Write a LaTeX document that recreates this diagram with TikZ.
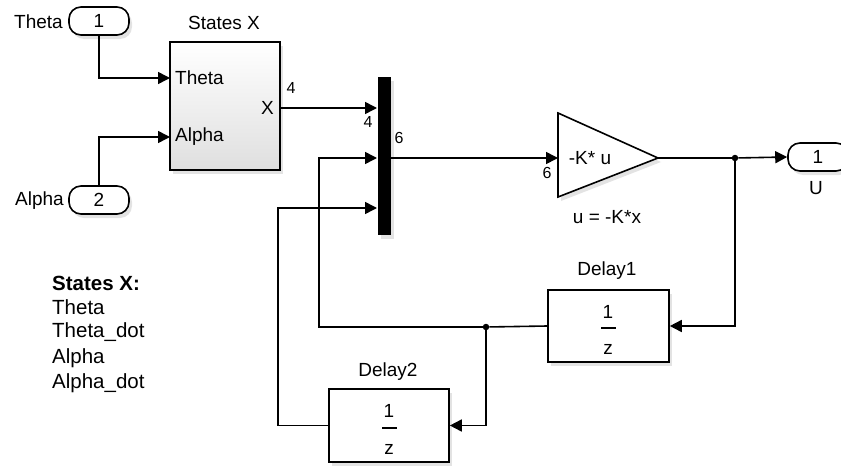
\documentclass[tikz,border=0pt]{standalone}
\usepackage{fontspec}
\setmainfont{Liberation Sans}
\usetikzlibrary{arrows.meta,shadows}
\begin{document}
\begin{tikzpicture}[x=1pt,y=-1pt,
  every node/.style={font=\fontsize{19}{22}\selectfont, inner sep=0pt},
  small/.style={font=\fontsize{16}{19}\selectfont},
  listtxt/.style={anchor=west, font=\fontsize{20.5}{24}\selectfont},
  wire/.style={line width=1.6pt},
  sig/.style={line width=1.6pt, -{Triangle[length=12pt,width=12pt]}},
  shad/.style={drop shadow={opacity=0.22, shadow xshift=3pt, shadow yshift=-4pt}},
  blk/.style={draw, line width=1.6pt, fill=white, shad},
  port/.style={draw, line width=1.6pt, fill=white, rounded corners=12pt, minimum width=60pt, minimum height=28pt, shad},
  dot/.style={circle, fill=black, minimum size=6.5pt, inner sep=0pt},
  fbar/.style={line width=2pt}
]
\useasboundingbox (0,0) rectangle (841,466);

% inports / outport
\node[port] (thetaIn) at (99,21) {1};
\node[port] (alphaIn) at (99,200) {2};
\node[port] (uOut) at (818,157) {1};
\node[anchor=east] (thetaLbl) at (63,22) {Theta};
\node[anchor=east] (alphaLbl) at (64,201) {Alpha};
\node (uLbl) at (816,188) {U};

% States X block
\node[draw, line width=1.6pt, top color=white, bottom color=gray!25, shad,
      minimum width=110pt, minimum height=128pt] (states) at (225,106) {};
\node (statesTitle) at (224,23) {States X};
\node[anchor=west] (pTheta) at (175,78) {Theta};
\node[anchor=west] (pAlpha) at (175,137) {Alpha};
\node[anchor=east] (pX) at (274,108) {X};
\node[small] (n4a) at (291,88) {4};

% Mux
\node[fill=black, minimum width=13pt, minimum height=158pt, shad] (mux) at (384,156) {};
\node[small] (n4b) at (368,122) {4};
\node[small] (n6a) at (399,138) {6};

% Gain
\coordinate (gIn) at (558,158);
\coordinate (gOut) at (658,158);
\filldraw[line width=1.6pt, fill=white, shad] (558,113) -- (gOut) -- (558,197) -- cycle;
\node (gainTxt) at (590,158) {-K* u};
\node[small] (n6b) at (547,173) {6};
\node (gainLbl) at (607,217) {u = -K*x};

% Delays
\node[blk, minimum width=121pt, minimum height=72pt] (d1) at (608.5,326) {};
\node (d1Title) at (607,271) {Delay1};
\node (d1num) at (608,312) {1};
\node (d1den) at (608,349) {z};
\draw[fbar] (601,328) -- (616,328);

\node[blk, minimum width=120pt, minimum height=73pt] (d2) at (389,425.5) {};
\node (d2Title) at (388,372) {Delay2};
\node (d2num) at (389,411) {1};
\node (d2den) at (389,449) {z};
\draw[fbar] (382,428) -- (397,428);

% junctions
\node[dot] (j1) at (735,158) {};
\node[dot] (j2) at (486,327) {};

% connector end points
\coordinate (sTheta) at (170,78);
\coordinate (sAlpha) at (170,137);
\coordinate (sX) at (280,108);
\coordinate (m1) at (377,108);
\coordinate (m2) at (377,158);
\coordinate (m3) at (377,208);
\coordinate (mOut) at (390,158);

% signals
\draw[sig] (thetaIn.south) |- (sTheta);
\draw[sig] (alphaIn.north) |- (sAlpha);
\draw[sig] (sX) -- (m1);
\draw[sig] (mOut) -- (gIn);
\draw[wire] (gOut) -- (j1);
\draw[sig] (j1) -- (uOut.west);
\draw[sig] (j1) |- (d1.east);
\draw[wire] (d1.west) -- (j2);
\draw[sig] (j2) -- (319,327) |- (m2);
\draw[sig] (j2) |- (d2.east);
\draw[sig] (d2.west) -| (278,300) |- (m3);

% state list
\node[listtxt, font=\fontsize{20.5}{24}\selectfont\bfseries] (lst0) at (52,283) {States X:};
\node[listtxt] (lst1) at (52,307) {Theta};
\node[listtxt] (lst2) at (52,332) {Theta\_dot};
\node[listtxt] (lst3) at (52,358) {Alpha};
\node[listtxt] (lst4) at (52,383) {Alpha\_dot};
\end{tikzpicture}
\end{document}
